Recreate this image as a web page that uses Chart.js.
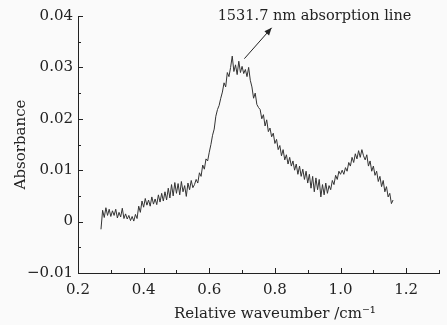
<!DOCTYPE html>
<html lang="en">
<head>
<meta charset="UTF-8">
<title>Absorbance spectrum</title>
<script src="https://cdn.jsdelivr.net/npm/chart.js"></script>
<style>
  body { margin: 0; background: #fafafa; }
  #wrap { width: 447px; height: 325px; position: relative; }
</style>
</head>
<body>
<div id="wrap"><canvas id="spectrum"></canvas></div>
<script>
// relative wavenumber (cm-1) of each sample
const waveNumber = [
  0.270, 0.275, 0.280, 0.285, 0.290, 0.295, 0.300,
  0.305, 0.310, 0.315, 0.320, 0.325, 0.330, 0.335, 0.340, 0.345, 0.350,
  0.355, 0.360, 0.365, 0.370, 0.375, 0.380, 0.385, 0.390, 0.395, 0.400,
  0.405, 0.410, 0.415, 0.420, 0.425, 0.430, 0.435, 0.440, 0.445, 0.450,
  0.455, 0.460, 0.465, 0.470, 0.475, 0.480, 0.485, 0.490, 0.495, 0.500,
  0.505, 0.510, 0.515, 0.520, 0.525, 0.530, 0.535, 0.540, 0.545, 0.550,
  0.555, 0.560, 0.565, 0.570, 0.575, 0.580, 0.585, 0.590, 0.595, 0.600,
  0.605, 0.610, 0.615, 0.620, 0.625, 0.630, 0.635, 0.640, 0.645, 0.650,
  0.655, 0.660, 0.665, 0.670, 0.675, 0.680, 0.685, 0.690, 0.695, 0.700,
  0.705, 0.710, 0.715, 0.720, 0.725, 0.730, 0.735, 0.740, 0.745, 0.750,
  0.755, 0.760, 0.765, 0.770, 0.775, 0.780, 0.785, 0.790, 0.795, 0.800,
  0.805, 0.810, 0.815, 0.820, 0.825, 0.830, 0.835, 0.840, 0.845, 0.850,
  0.855, 0.860, 0.865, 0.870, 0.875, 0.880, 0.885, 0.890, 0.895, 0.900,
  0.905, 0.910, 0.915, 0.920, 0.925, 0.930, 0.935, 0.940, 0.945, 0.950,
  0.955, 0.960, 0.965, 0.970, 0.975, 0.980, 0.985, 0.990, 0.995, 1.000,
  1.005, 1.010, 1.015, 1.020, 1.025, 1.030, 1.035, 1.040, 1.045, 1.050,
  1.055, 1.060, 1.065, 1.070, 1.075, 1.080, 1.085, 1.090, 1.095, 1.100,
  1.105, 1.110, 1.115, 1.120, 1.125, 1.130, 1.135, 1.140, 1.145, 1.150, 1.155, 1.160
];

// absorbance
const absorbance = [
  -0.0015, 0.0022, 0.0008, 0.0027, 0.0012, 0.0024, 0.0010,
  0.0021, 0.0012, 0.0024, 0.0007, 0.0018, 0.0009, 0.0026, 0.0006, 0.0015, 0.0005,
  0.0012, 0.0002, 0.0010, 0.0001, 0.0014, 0.0006, 0.0030, 0.0018, 0.0040, 0.0028,
  0.0045, 0.0032, 0.0042, 0.0030, 0.0048, 0.0034, 0.0044, 0.0033, 0.0052, 0.0038,
  0.0055, 0.0040, 0.0058, 0.0042, 0.0065, 0.0046, 0.0072, 0.0050, 0.0076, 0.0055,
  0.0074, 0.0052, 0.0078, 0.0058, 0.0070, 0.0049, 0.0075, 0.0062, 0.0080, 0.0066,
  0.0072, 0.0082, 0.0075, 0.0095, 0.0088, 0.0110, 0.0102, 0.0122, 0.0118, 0.0135,
  0.0150, 0.0168, 0.0180, 0.0205, 0.0218, 0.0226, 0.0240, 0.0252, 0.0270, 0.0262,
  0.0290, 0.0282, 0.0300, 0.0322, 0.0292, 0.0305, 0.0286, 0.0312, 0.0290, 0.0302,
  0.0288, 0.0296, 0.0282, 0.0300, 0.0275, 0.0262, 0.0240, 0.0250, 0.0228, 0.0222,
  0.0218, 0.0200, 0.0208, 0.0186, 0.0198, 0.0175, 0.0182, 0.0165, 0.0172, 0.0152,
  0.0160, 0.0140, 0.0148, 0.0128, 0.0140, 0.0120, 0.0130, 0.0112, 0.0125, 0.0108,
  0.0118, 0.0100, 0.0112, 0.0092, 0.0108, 0.0088, 0.0102, 0.0082, 0.0098, 0.0075,
  0.0092, 0.0065, 0.0088, 0.0058, 0.0085, 0.0062, 0.0082, 0.0048, 0.0072, 0.0052,
  0.0075, 0.0055, 0.0070, 0.0062, 0.0080, 0.0072, 0.0090, 0.0082, 0.0098, 0.0092,
  0.0100, 0.0092, 0.0105, 0.0098, 0.0115, 0.0108, 0.0125, 0.0115, 0.0132, 0.0122,
  0.0138, 0.0125, 0.0140, 0.0128, 0.0120, 0.0130, 0.0108, 0.0118, 0.0098, 0.0108,
  0.0090, 0.0098, 0.0078, 0.0088, 0.0068, 0.0080, 0.0058, 0.0068, 0.0048, 0.0055, 0.0035, 0.0042
];

const xTickValues = [0.2, 0.4, 0.6, 0.8, 1.0, 1.2];
const xMinorValues = [0.3, 0.5, 0.7, 0.9, 1.1, 1.3];
const yTickValues = [-0.01, 0, 0.01, 0.02, 0.03, 0.04];
const yMinorValues = [-0.005, 0.005, 0.015, 0.025, 0.035];

const xTitle = 'Relative waveumber /cm⁻¹';
const noteText = '1531.7 nm absorption line';
const noteArrow = { from: [0.707, 0.0317], to: [0.79, 0.0377] };

const serif = '"DejaVu Serif", "Liberation Serif", serif';
const ink = '#222';

// inward ticks, x title, annotation and arrow
const decorations = {
  id: 'decorations',
  afterDraw(chart) {
    const ctx = chart.ctx;
    const x = chart.scales.x, y = chart.scales.y;
    const area = chart.chartArea;
    ctx.save();
    ctx.strokeStyle = ink;
    ctx.lineWidth = 1;
    ctx.beginPath();
    xTickValues.forEach(v => {
      const px = Math.round(x.getPixelForValue(v)) + 0.5;
      ctx.moveTo(px, area.bottom); ctx.lineTo(px, area.bottom - 5);
    });
    xMinorValues.forEach(v => {
      const px = Math.round(x.getPixelForValue(v)) + 0.5;
      ctx.moveTo(px, area.bottom); ctx.lineTo(px, area.bottom - 3);
    });
    yTickValues.forEach(v => {
      const py = Math.round(y.getPixelForValue(v)) + 0.5;
      ctx.moveTo(area.left, py); ctx.lineTo(area.left + 5, py);
    });
    yMinorValues.forEach(v => {
      const py = Math.round(y.getPixelForValue(v)) + 0.5;
      ctx.moveTo(area.left, py); ctx.lineTo(area.left + 3, py);
    });
    ctx.stroke();

    // arrow
    const x0 = x.getPixelForValue(noteArrow.from[0]), y0 = y.getPixelForValue(noteArrow.from[1]);
    const x1 = x.getPixelForValue(noteArrow.to[0]), y1 = y.getPixelForValue(noteArrow.to[1]);
    const ang = Math.atan2(y1 - y0, x1 - x0);
    ctx.beginPath();
    ctx.moveTo(x0, y0); ctx.lineTo(x1, y1);
    ctx.stroke();
    ctx.fillStyle = ink;
    ctx.beginPath();
    ctx.moveTo(x1, y1);
    ctx.lineTo(x1 - 8 * Math.cos(ang - 0.4), y1 - 8 * Math.sin(ang - 0.4));
    ctx.lineTo(x1 - 8 * Math.cos(ang + 0.4), y1 - 8 * Math.sin(ang + 0.4));
    ctx.closePath();
    ctx.fill();

    // annotation text
    ctx.font = '14.5px ' + serif;
    ctx.textBaseline = 'middle';
    ctx.textAlign = 'left';
    ctx.fillText(noteText, x.getPixelForValue(0.6255), y.getPixelForValue(0.0399));

    // x axis title, sits a little right of the plot centre
    ctx.font = '15px ' + serif;
    ctx.textAlign = 'center';
    ctx.fillText(xTitle, x.getPixelForValue(0.8), area.bottom + 41);
    ctx.restore();
  }
};

const ctx = document.getElementById('spectrum').getContext('2d');
const chart = new Chart(ctx, {
  type: 'line',
  data: {
    datasets: [{
      data: waveNumber.map((w, i) => ({ x: w, y: absorbance[i] })),
      borderColor: '#333',
      borderWidth: 1,
      pointRadius: 0,
      tension: 0
    }]
  },
  options: {
    responsive: true,
    maintainAspectRatio: false,
    animation: false,
    layout: { padding: { top: 16, right: 8, left: 0, bottom: 0 } },
    plugins: { legend: { display: false }, tooltip: { enabled: false } },
    scales: {
      x: {
        type: 'linear',
        min: 0.2,
        max: 1.3,
        afterBuildTicks: s => { s.ticks = xTickValues.map(v => ({ value: v })); },
        afterFit: s => { s.height = 52; },
        grid: { display: false, drawTicks: false },
        border: { display: true, color: ink, width: 1 },
        ticks: {
          padding: 8,
          color: ink,
          font: { family: serif, size: 15 },
          callback: v => v.toFixed(1)
        },
        title: { display: false }
      },
      y: {
        min: -0.01,
        max: 0.04,
        afterBuildTicks: s => { s.ticks = yTickValues.map(v => ({ value: v })); },
        afterFit: s => { s.width = 78; },
        grid: { display: false, drawTicks: false },
        border: { display: true, color: ink, width: 1 },
        ticks: {
          padding: 5,
          color: ink,
          font: { family: serif, size: 15 },
          callback: v => Math.abs(v) < 1e-9 ? '0' : v.toFixed(2).replace('-', '\u2212')
        },
        title: {
          display: true,
          text: 'Absorbance',
          color: ink,
          font: { family: serif, size: 15 },
          padding: { top: 12, bottom: 0 }
        }
      }
    }
  },
  plugins: [decorations]
});
</script>
</body>
</html>
